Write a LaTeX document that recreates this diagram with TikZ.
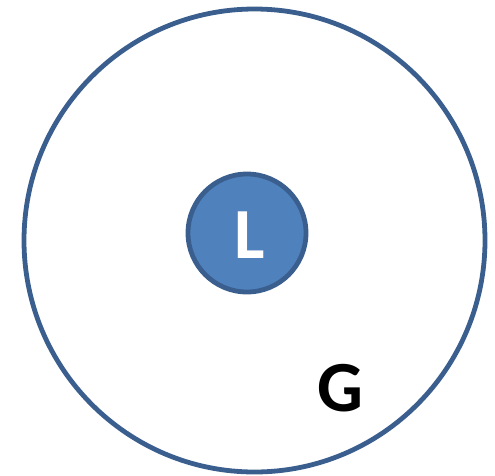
\documentclass[tikz,border=0pt]{standalone}
\usepackage{fontspec}
\setmainfont{Carlito}
\definecolor{ringblue}{HTML}{3A5F8F}
\definecolor{fillblue}{HTML}{4F81BD}
\begin{document}
\begin{tikzpicture}[x=1pt,y=-1pt,
  ring/.style={draw=ringblue,line width=4.8pt},
  bigtext/.style={font=\fontsize{72}{72}\selectfont\bfseries,inner sep=0pt}]
\useasboundingbox (0,0) rectangle (495,475);
\draw[ring] (254.5,240.5) ellipse [x radius=230.5, y radius=231.5];
\node[ring,fill=fillblue,circle,minimum size=118pt,inner sep=0pt] (small) at (247,233) {};
\node[bigtext,text=white,anchor=center] (L) at (249.5,235) {L};
\node[bigtext,text=black] (G) at (340.5,388) {G};
\end{tikzpicture}
\end{document}
